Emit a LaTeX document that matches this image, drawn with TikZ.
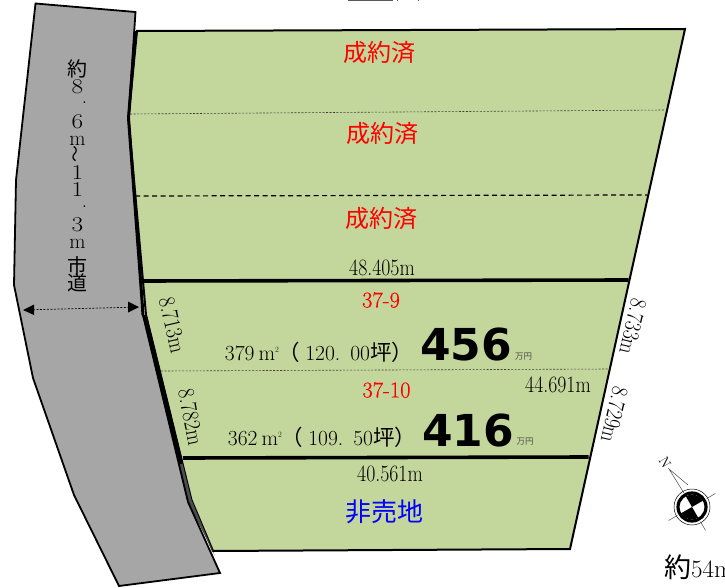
\documentclass[tikz,border=0pt]{standalone}
\usepackage{fontspec}
\usepackage{graphicx}
\usetikzlibrary{calc}
\newfontfamily\cjk{Noto Sans CJK JP}
\newfontfamily\bignum{DejaVu Sans Bold}
\newfontfamily\redserif[FakeBold=0.6]{Latin Modern Roman}
\definecolor{lotgreen}{HTML}{C3D69B}
\definecolor{roadgray}{HTML}{A6A6A6}
\definecolor{soldred}{HTML}{FF0000}
\newcommand{\tallnum}[1]{\scalebox{1.1}[1.3]{#1}}
\newcommand{\widenum}[1]{\scalebox{1.2}[1]{#1}}
\newcommand{\sqm}{m\raisebox{8pt}{\scalebox{.38}{2}}}
\tikzset{
 lbl/.style={inner sep=0pt,font=\fontsize{18}{18}\selectfont},
 sold/.style={inner sep=0pt,text=soldred,font=\cjk\fontsize{24}{24}\selectfont},
 lotno/.style={inner sep=0pt,text=soldred,font=\redserif\fontsize{22.5}{22.5}\selectfont},
 area/.style={inner sep=0pt,font=\fontsize{21.5}{21.5}\selectfont},
 price/.style={inner sep=0pt,font=\bignum\fontsize{44}{44}\selectfont},
 yen/.style={inner sep=0pt,text=black!70,font=\cjk\fontsize{8.5}{8.5}\selectfont},
 boundary/.style={black,line width=3.6pt},
 thindot/.style={black!75,line width=.6pt,dash pattern=on 2pt off 1.5pt},
}
\begin{document}
\begin{tikzpicture}[x=1pt,y=-1pt,line join=miter]
\useasboundingbox (0,0) rectangle (725,588);
\clip (0,0) rectangle (725,588);
\fill[white] (0,0) rectangle (725,588);
% clipped remains of a caption at the top edge
\draw[black!65,line width=1.2pt] (348,0.5) -- (393,0.5) (397,0.5) -- (398,0.5) (418,0.5) -- (419,0.5);
% lots
\draw[fill=lotgreen,draw=black,line width=2pt] (137,31) -- (685,29) -- (570,549) -- (213,551) -- (191.5,500) -- (146,315) -- (128.5,118) -- cycle;
% sliver between the road and the lots
\fill[black!70] (146,315) -- (191.5,500) -- (215,556) -- (188,502) -- (143,315) -- cycle;
% road
\draw[fill=roadgray,draw=black,line width=1.8pt] (35.5,3.5) -- (135.5,12) -- (128.5,118) -- (142,300) -- (143,315) -- (188,502) -- (220,573) -- (119,586) -- (74,495) -- (33,378) -- (14,285) -- (16,180) -- cycle;
% thick shared boundary
\draw[black,line width=3pt] (135.5,31) -- (128.5,118) -- (142,300) -- (143,315);
\draw[black,line width=4.4pt] (144.5,315) -- (181,464);
% division lines
\coordinate (a1) at (130,114); \coordinate (a2) at (665,110);
\coordinate (b1) at (135,196); \coordinate (b2) at (647,195);
\coordinate (c1) at (141,281); \coordinate (c2) at (628.5,280);
\coordinate (d1) at (161,371); \coordinate (d2) at (610,369);
\coordinate (e1) at (183,458); \coordinate (e2) at (588.5,457);
\draw[thindot] (a1) -- (a2);
\draw[black,line width=1.2pt,dash pattern=on 5pt off 3.5pt] (b1) -- (b2);
\draw[boundary] (c1) -- (c2);
\draw[thindot] (d1) -- (d2);
\draw[boundary] (e1) -- (e2);
% road width arrow
\coordinate (w1) at (23,310); \coordinate (w2) at (139,307);
\draw[black,line width=.7pt,dash pattern=on 2pt off 1.5pt] ($(w1)+(10,-.3)$) -- ($(w2)+(-10,.3)$);
\fill[black] (w1) -- (34,304.5) -- (34,315) -- cycle;
\fill[black] (w2) -- (128,301.5) -- (128,312.5) -- cycle;
% road name
\node[inner sep=0pt,align=center,font={\fontsize{21}{17.2}\selectfont\lineskiplimit=-100pt}] (road) at (77.5,176) {%
{\cjk\fontsize{20}{17.2}\selectfont 約}\\\widenum{8}\\\hspace*{14pt}\raisebox{7pt}{.}\\\widenum{6}\\m\\\rotatebox{90}{\scalebox{.8}{\cjk ～}}\\\widenum{1}\\\widenum{1}\\\hspace*{14pt}\raisebox{7pt}{.}\\\widenum{3}\\m\\[8pt]{\cjk\fontsize{20}{17.2}\selectfont 市}\\{\cjk\fontsize{20}{17.2}\selectfont 道}};
% sold lots
\node[sold] (s1) at (379,52) {成約済};
\node[sold] (s2) at (382,133) {成約済};
\node[sold] (s3) at (381,218) {成約済};
\node[sold,text=blue,font=\cjk\fontsize{26}{26}\selectfont] (ns) at (384,512) {非売地};
% dimensions
\node[lbl] (d48) at (382,268) {\tallnum{48.405m}};
\node[lbl] (d44) at (558,385) {\tallnum{44.691m}};
\node[lbl] (d40) at (390,474) {\tallnum{40.561m}};
\node[lbl,rotate=-77] (l1) at (172.5,325) {\tallnum{8.713m}};
\node[lbl,rotate=-79] (l2) at (191,417) {\tallnum{8.782m}};
\node[lbl,rotate=-103] (r1) at (633,327) {\tallnum{8.733m}};
\node[lbl,rotate=-103] (r2) at (614.5,415) {\tallnum{8.729m}};
% lot data
\node[lotno] (n9) at (381,300) {37-9};
\node[lotno] (n10) at (386.5,390) {37-10};
\node[area] (a379) at (319,352) {379\hspace{4pt}\sqm{\cjk （}\hspace{5pt}120.\hspace{10pt}00{\cjk 坪）}};
\node[area] (a362) at (322,437) {362\hspace{4pt}\sqm{\cjk （}\hspace{5pt}109.\hspace{10pt}50{\cjk 坪）}};
\node[price] (p456) at (466,345) {456};
\node[price] (p416) at (468,431) {416};
\node[yen] (y1) at (523.5,357) {万円};
\node[yen] (y2) at (525,442) {万円};
% north mark
\begin{scope}[shift={(692,507)},y=1pt]
\draw[black,line width=.5pt] (0,0) circle[radius=18pt];
\draw[black!70,line width=.5pt] (30:17) -- (30:27) (210:17) -- (210:27) (300:17) -- (300:27);
\draw[black!70,line width=.5pt] (120:16) -- (-23,38) -- (-4,22);
\draw[black,line width=3.2pt] (0,0) circle[radius=14pt];
\fill[black] (0,0) -- (30:12.5) arc[start angle=30,end angle=120,radius=12.5pt] -- cycle;
\fill[black] (0,0) -- (210:12.5) arc[start angle=210,end angle=300,radius=12.5pt] -- cycle;
\end{scope}
\node[inner sep=0pt,rotate=-60,font=\fontsize{14}{14}\selectfont] (north) at (665,463) {N};
\node[anchor=west,inner sep=0pt,font=\fontsize{25}{25}\selectfont] (dist) at (664,567) {{\cjk\fontsize{27}{27}\selectfont 約}54m};
\end{tikzpicture}
\end{document}
